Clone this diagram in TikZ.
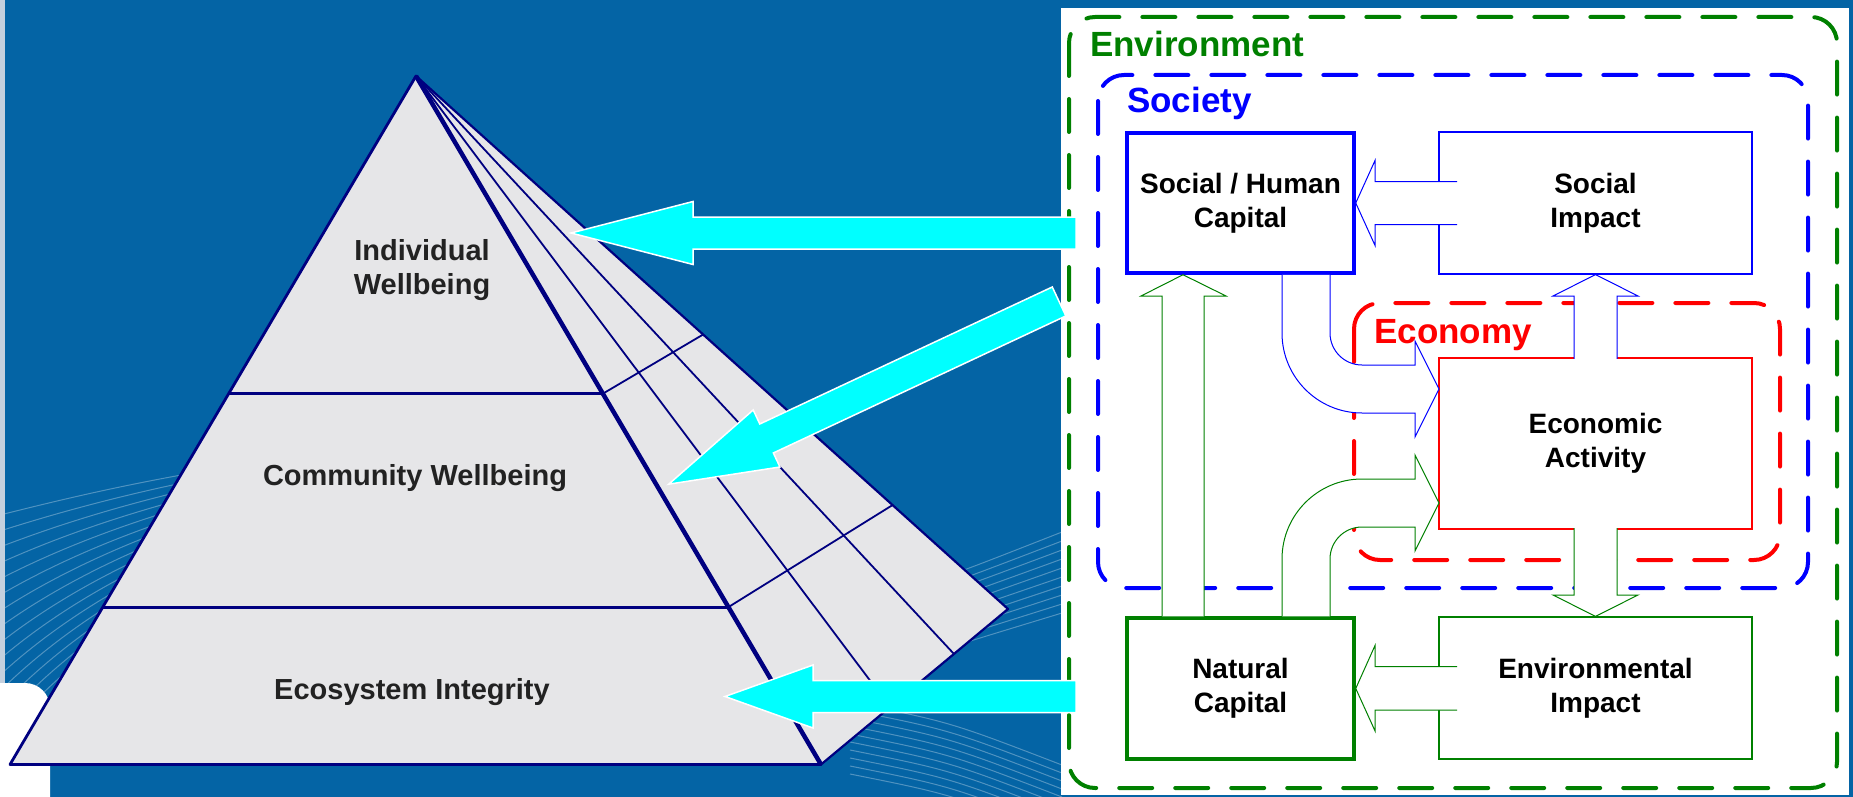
\documentclass[tikz,border=0pt]{standalone}
\usepackage{fontspec}
\setmainfont{Liberation Sans}
\usepackage{tikz}
\usetikzlibrary{calc}

\definecolor{bgblue}{RGB}{4,100,165}
\definecolor{stripgrey}{RGB}{196,208,222}
\definecolor{envgreen}{RGB}{0,128,0}
\definecolor{pyrgrey}{RGB}{230,230,232}
\definecolor{pyrnavy}{RGB}{0,0,128}
\definecolor{txtgrey}{RGB}{34,34,34}
\definecolor{aqua}{RGB}{0,255,255}

\tikzset{
    wave/.style={white, opacity=0.3, line width=1pt},
    zone/.style={draw=#1, line width=4pt, dash pattern=on 33pt off 23pt, line cap=round, rounded corners=26pt},
    zonelabel/.style={text=#1, font=\fontsize{35}{40}\selectfont\bfseries, anchor=base west, inner sep=0pt},
    capbox/.style={draw=#1, line width=3.5pt, fill=white, align=center, font=\fontsize{28}{34}\selectfont\bfseries, minimum width=227pt, minimum height=140pt, inner sep=0pt},
    impbox/.style={capbox=#1, line width=1.2pt, minimum width=313pt},
    blockarr/.style={draw=#1, fill=white, line width=1pt, line join=miter},
    cyanarr/.style={fill=aqua, draw=white, line width=1.5pt, line join=miter},
    pyrtext/.style={text=txtgrey, align=center, font=\fontsize{29}{34}\selectfont\bfseries}
}

\begin{document}
\begin{tikzpicture}[x=1pt,y=-1pt]
    \useasboundingbox (0,0) rectangle (1853,797);
    \fill[bgblue] (0,0) rectangle (1853,797);

    % Background swoosh
    \foreach \k in {0,...,15}
        \draw[wave] (0,{515+16*\k}) .. controls (60,{500+12*\k}) and (140,{480+9*\k}) .. (260,{462+6*\k});
    \foreach \k in {0,...,9}
        \draw[wave] (900,{592+8*\k}) .. controls (960,{572+8*\k}) .. (1062,{532+9*\k});
    \foreach \k in {0,...,9}
        \draw[wave] (850,{702+8*\k}) .. controls (950,{722+8*\k}) .. (1062,{765+8*\k});
    \fill[stripgrey] (0,0) rectangle (5,683);
    \fill[white, rounded corners=25pt] (-30,683) rectangle (50,830);

    % Pyramid
    \coordinate (apex) at (416,76);
    \coordinate (bl) at (10,764.5);
    \coordinate (br) at (821,764.5);
    \coordinate (outer) at (1008,609);

    \draw[fill=pyrgrey, draw=pyrnavy, line width=2.2pt, line join=round] (apex) -- (outer) -- (br) -- cycle;
    \foreach \t in {0.289,0.631}
        \draw[pyrnavy, line width=1.8pt] (apex) -- ($(outer)!\t!(br)$);
    \draw[pyrnavy, line width=1.8pt] ($(apex)!0.4614!(br)$) -- ($(apex)!0.485!(outer)$);
    \draw[pyrnavy, line width=1.8pt] ($(apex)!0.7714!(br)$) -- ($(apex)!0.805!(outer)$);

    \draw[fill=pyrgrey, draw=pyrnavy, line width=2.8pt, line join=round] (apex) -- (bl) -- (br) -- cycle;
    \foreach \t in {0.4614,0.7714}
        \draw[pyrnavy, line width=3pt] ($(apex)!\t!(bl)$) -- ($(apex)!\t!(br)$);
    \draw[pyrnavy, line width=4.5pt] (apex) -- (br);

    \node[pyrtext] (indiv) at (422,270) {Individual\\Wellbeing};
    \node[pyrtext] (comm) at (415,478) {Community Wellbeing};
    \node[pyrtext] (ecosys) at (412,692) {Ecosystem Integrity};

    % Right panel
    \fill[white] (1061,8) rectangle (1849,795);

    \draw[zone=envgreen] (1069,17) rectangle (1837,788);
    \draw[zone=blue] (1098,75) rectangle (1808,588);
    \draw[zone=red] (1354,303) rectangle (1780,560);

    \node[zonelabel=envgreen] (envlbl) at (1090,57) {Environment};
    \node[zonelabel=blue] (soclbl) at (1127,113) {Society};
    \node[zonelabel=red] (ecolbl) at (1374,343) {Economy};

    % Capitals and impacts
    \node[capbox=blue] (shc) at (1240.5,203) {Social / Human\\Capital};
    \node[impbox=blue, minimum height=142pt] (simp) at (1595.5,203) {Social\\Impact};
    \node[impbox=red, minimum height=171pt] (eco) at (1595.5,443.5) {Economic\\Activity};
    \node[capbox=envgreen, minimum height=141pt] (natc) at (1240.5,688.5) {Natural\\Capital};
    \node[impbox=envgreen, minimum height=142pt] (envimp) at (1595.5,688) {Environmental\\Impact};

    % Block arrows
    \draw[blockarr=blue] ($(simp.west)+(18.6,-21.5)$) -- ++(-82,0) -- ++(0,-21) -- (shc.east) -- ++(19.3,42.5) -- ++(0,-21) -- ++(82,0);
    \draw[blockarr=envgreen] ($(envimp.west)+(18.6,-21.5)$) -- ++(-82,0) -- ++(0,-21) -- (natc.east) -- ++(19.3,42.5) -- ++(0,-21) -- ++(82,0);
    \draw[blockarr=envgreen] ($(natc.north west)+(36.75,0)$) -- ++(0,-320.25) -- ++(-21,0) -- ($(shc.south west)+(57.75,0)$) -- ++(43,21.25) -- ++(-22,0) -- ++(0,320.25);
    \draw[blockarr=blue] ($(shc.south)+(41.5,0)$) -- ++(0,58.25) arc[start angle=180, end angle=90, radius=80] -- ++(53,0) -- ++(0,24) -- ++(24,-48) -- ++(-24,-48) -- ++(0,24) -- ++(-53,0) arc[start angle=90, end angle=180, radius=32] -- ++(0,-58.25);
    \draw[blockarr=envgreen] ($(natc.north)+(41.5,0)$) -- ++(0,-57.25) arc[start angle=180, end angle=270, radius=80] -- ++(53,0) -- ++(0,-24) -- ++(24,48) -- ++(-24,48) -- ++(0,-24) -- ++(-53,0) arc[start angle=270, end angle=180, radius=32] -- ++(0,57.25);
    \draw[blockarr=blue] ($(eco.north)+(-21.5,1.5)$) -- ++(0,-62.9) -- ++(-21,0) -- (simp.south) -- ++(42.5,21.4) -- ++(-21,0) -- ++(0,62.9);
    \draw[blockarr=envgreen] ($(eco.south)+(-21.5,-1.5)$) -- ++(0,66.9) -- ++(-21,0) -- (envimp.north) -- ++(42.5,-21.4) -- ++(-21,0) -- ++(0,-66.9);

    % Arrows into the pyramid
    \coordinate (tipindiv) at (571,233);
    \coordinate (tipcomm) at (668.7,484.2);
    \coordinate (tipecosys) at (725,696.5);
    \draw[cyanarr] (tipindiv) -- ++(122,-31.5) -- ++(0,15.5) -- ++(383,0) -- ++(0,32) -- ++(-383,0) -- ++(0,15.5) -- cycle;
    \draw[cyanarr] (tipcomm) -- ++(-41.3:112.5) -- ++(64.9:15.5) -- ++(-25.1:323) -- ++(64.9:32) -- ++(154.9:323) -- ++(64.9:15.5) -- cycle;
    \draw[cyanarr] (tipecosys) -- ++(88,-31.5) -- ++(0,15.5) -- ++(263,0) -- ++(0,32) -- ++(-263,0) -- ++(0,15.5) -- cycle;
\end{tikzpicture}
\end{document}
